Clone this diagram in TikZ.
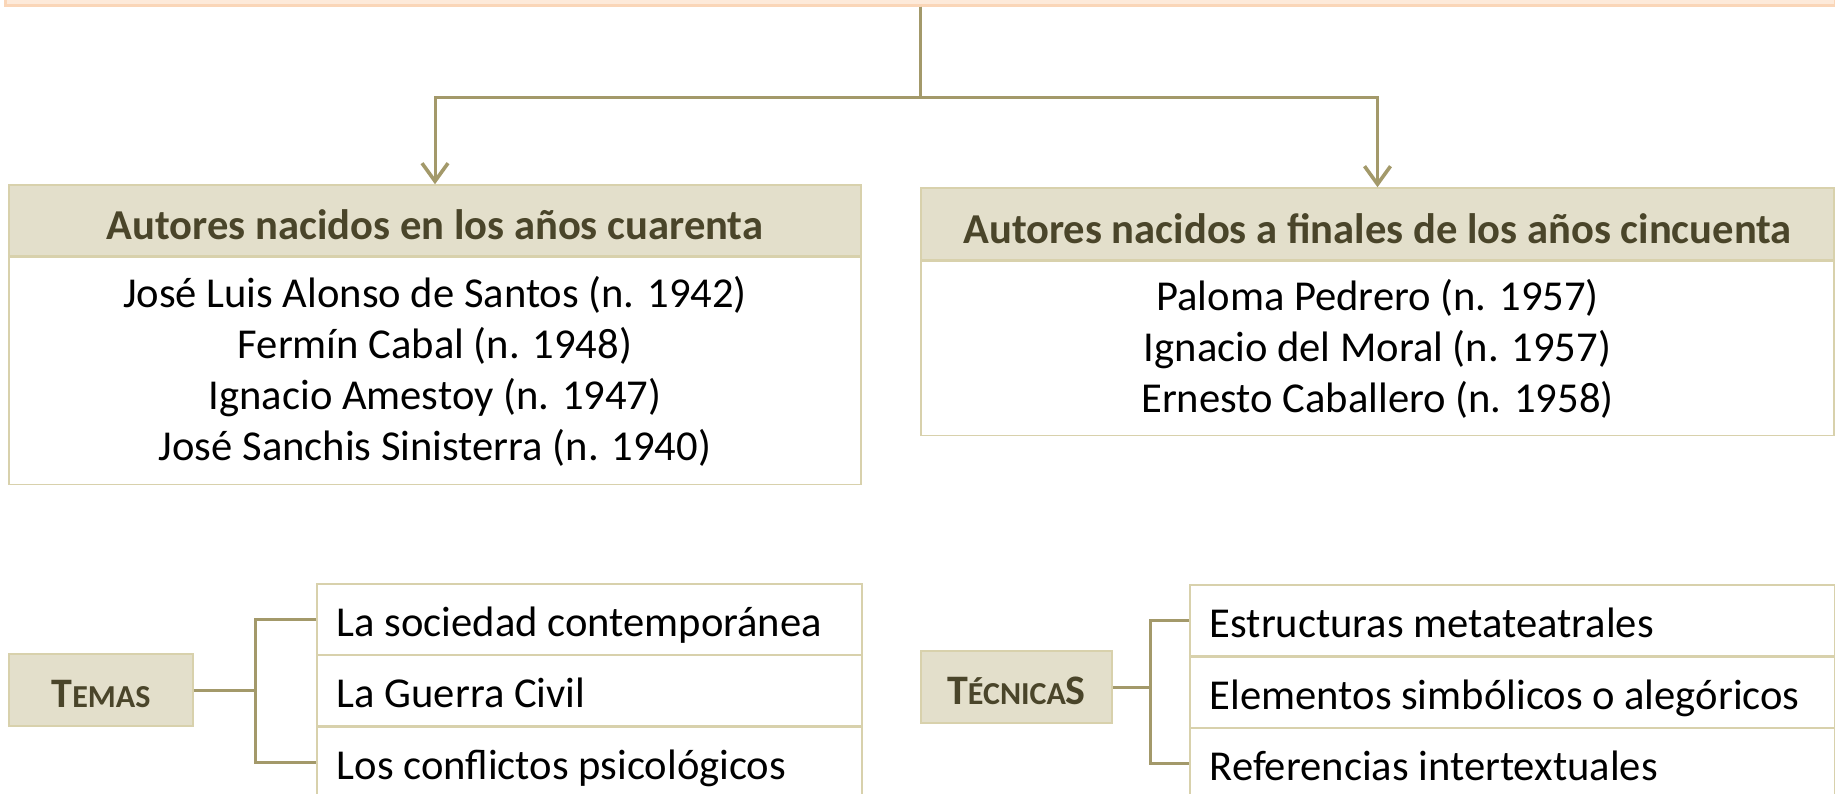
\documentclass[tikz,border=0pt]{standalone}
\usepackage{fontspec}
\setmainfont{Carlito}
\usetikzlibrary{positioning,arrows.meta}
\definecolor{headfill}{RGB}{227,223,203}
\definecolor{boxline}{RGB}{216,209,172}
\definecolor{headtext}{RGB}{74,69,42}
\definecolor{linkcol}{RGB}{163,153,106}
\definecolor{topfill}{RGB}{253,234,218}
\definecolor{topline}{RGB}{250,214,184}
\begin{document}
\begin{tikzpicture}[x=0.5pt,y=-0.5pt]
\tikzset{head/.style = {shape=rectangle,draw=boxline,fill=headfill,line width=0.75pt,text height=19pt,text depth=0pt,inner ysep=0pt,text=headtext,font=\fontsize{21.3}{25.5}\selectfont\bfseries}}
\tikzset{body/.style = {shape=rectangle,draw=boxline,line width=0.75pt,align=center,font=\fontsize{21.3}{25.5}\selectfont}}
\tikzset{label/.style = {shape=rectangle,draw=boxline,fill=headfill,line width=0.75pt,minimum height=36pt,text height=17pt,text depth=0pt,inner ysep=0pt,text=headtext,font=\fontsize{21}{24}\selectfont\bfseries}}
\tikzset{item/.style = {shape=rectangle,draw=boxline,line width=0.75pt,minimum height=35.5pt,inner xsep=10pt,inner ysep=0pt,text height=22pt,text depth=5pt,anchor=north west,align=flush left,font=\fontsize{21.3}{25.5}\selectfont}}
\tikzset{link/.style = {draw=linkcol,line width=1.5pt}}
\tikzset{arrowdown/.style = {-{Straight Barb[length=9pt,width=13pt,line width=1.8pt]}}}
\useasboundingbox (0,0) rectangle (1835,793);
% top box
\node[shape=rectangle,fill=topfill,draw=topline,line width=1.5pt,minimum width=915pt,minimum height=35pt] (top) at (920,-30) {};
% authors on the left
\node[head,minimum width=426pt,minimum height=35.5pt] (hdL) at (435,220.5) {Autores nacidos en los años cuarenta};
\node[body,minimum width=426pt,minimum height=113.5pt,below=0pt of hdL] (bdL) {José Luis Alonso de Santos (n. 1942)\\Fermín Cabal (n. 1948)\\Ignacio Amestoy (n. 1947)\\José Sanchis Sinisterra (n. 1940)};
% authors on the right
\node[head,minimum width=456.5pt,minimum height=36pt] (hdR) at (1377.5,224) {Autores nacidos a finales de los años cincuenta};
\node[body,minimum width=456.5pt,minimum height=87pt,below=0pt of hdR] (bdR) {Paloma Pedrero (n. 1957)\\Ignacio del Moral (n. 1957)\\Ernesto Caballero (n. 1958)};
\draw[link,arrowdown] (top.south) -- ++(0,91) -| (hdL.north);
\draw[link,arrowdown] (top.south) -- ++(0,91) -| (hdR.north);
% temas
\node[label,minimum width=92pt] (temas) at (101,690) {T{\fontsize{16}{19}\selectfont EMAS}};
\node[item,text width=252.5pt] (t1) at (316,583) {La sociedad contemporánea};
\node[item,text width=252.5pt] (t2) at (316,654) {La Guerra Civil};
\node[item,text width=252.5pt] (t3) at (316,726) {Los conflictos psicológicos};
\coordinate (tj) at (255,690);
\draw[link] (temas.east) -- (tj);
\draw[link] (t1.west) -| (tj) |- (t3.west);
% tecnicas
\node[label,minimum width=95.5pt] (tecnicas) at (1016.5,687) {T{\fontsize{16}{19}\selectfont ÉCNICA}S};
\node[item,text width=302.5pt] (c1) at (1189,584) {Estructuras metateatrales};
\node[item,text width=302.5pt] (c2) at (1189,656) {Elementos simbólicos o alegóricos};
\node[item,text width=302.5pt] (c3) at (1189,727) {Referencias intertextuales};
\coordinate (cj) at (1150,687);
\draw[link] (tecnicas.east) -- (cj);
\draw[link] (c1.west) -| (cj) |- (c3.west);
\end{tikzpicture}
\end{document}
